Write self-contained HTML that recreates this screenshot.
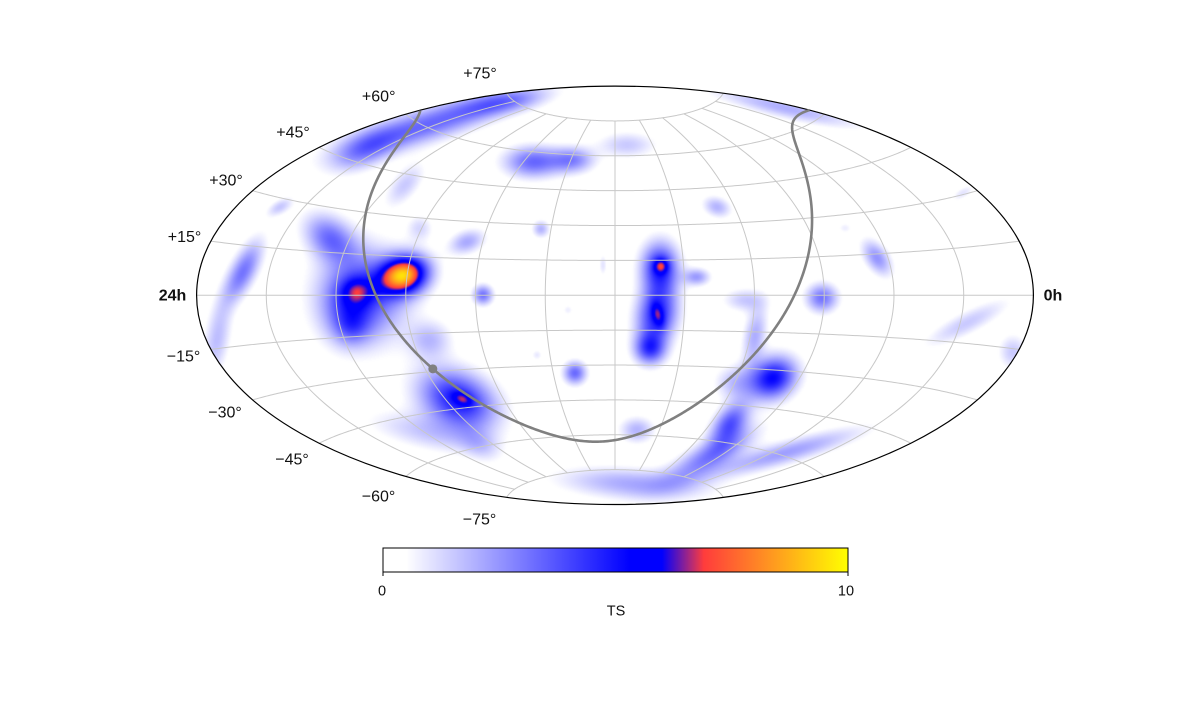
<!DOCTYPE html>
<html><head><meta charset="utf-8"><style>
html,body{margin:0;padding:0;background:#fff;}
#wrap{position:relative;width:1200px;height:720px;overflow:hidden;background:#fff;}
canvas,svg{position:absolute;left:0;top:0;}
text{font-family:"Liberation Sans","DejaVu Sans",sans-serif;fill:#111;}
</style></head><body><div id="wrap">
<canvas id="c" width="1200" height="720"></canvas>
<svg id="s" width="1200" height="720" viewBox="0 0 1200 720">
<defs>
<linearGradient id="cb" x1="0" x2="1" y1="0" y2="0">
<stop offset="0" stop-color="#ffffff"/>
<stop offset="0.05" stop-color="#ffffff"/>
<stop offset="0.53" stop-color="#0000ff"/>
<stop offset="0.6" stop-color="#0000ff"/>
<stop offset="0.69" stop-color="#ff3c3c"/>
<stop offset="1" stop-color="#ffff00"/>
</linearGradient>
</defs>
<g id="grid" fill="none" stroke="#c8c8c8" stroke-width="1"></g>
<ellipse cx="615" cy="295.3" rx="418.4" ry="209.2" fill="none" stroke="#000" stroke-width="1.2"/>
<g id="gal" fill="none" stroke="#808080" stroke-width="2.6" stroke-linejoin="round"></g>
<circle id="gc" cx="433.9" cy="368.9" r="4.5" fill="#808080"/>
<g font-size="16" text-anchor="middle">
<text x="480" y="78.5">+75°</text>
<text x="378.7" y="101.5">+60°</text>
<text x="293" y="137.5">+45°</text>
<text x="226" y="185.5">+30°</text>
<text x="184.5" y="242">+15°</text>
<text x="172.5" y="300.5" font-weight="bold">24h</text>
<text x="1053" y="300.5" font-weight="bold">0h</text>
<text x="183.5" y="361.5">−15°</text>
<text x="225" y="417.5">−30°</text>
<text x="292" y="464.5">−45°</text>
<text x="378.5" y="501.5">−60°</text>
<text x="479.5" y="524.5">−75°</text>
</g>
<rect x="383" y="548" width="465" height="24" fill="url(#cb)" stroke="#000" stroke-width="1"/>
<line x1="383" y1="572" x2="383" y2="576" stroke="#000" stroke-width="1"/>
<line x1="848" y1="572" x2="848" y2="576" stroke="#000" stroke-width="1"/>
<g font-size="14.5" text-anchor="middle">
<text x="382" y="595.5">0</text>
<text x="846" y="595.5">10</text>
<text x="616" y="615.5">TS</text>
</g>
</svg>
<script>
(function(){
const D=Math.PI/180, CX=615, CY=295.3, R=133.2, EA=418.4, EB=209.2;
function proj(lon,lat){
  const l=lon*D, p=lat*D;
  const ca=Math.cos(p)*Math.cos(l/2);
  const al=Math.acos(Math.max(-1,Math.min(1,ca)));
  const sc=al<1e-9?1:Math.sin(al)/al;
  const x=2*Math.cos(p)*Math.sin(l/2)/sc, y=Math.sin(p)/sc;
  return [CX+R*x, CY-R*y];
}
let gd="";
for(let lat=-75;lat<=75;lat+=15){
  let s="";
  for(let lon=-180;lon<=180;lon+=1){const q=proj(lon,lat);s+=(lon===-180?"M":"L")+q[0].toFixed(2)+" "+q[1].toFixed(2);}
  gd+=s;
}
for(let lon=-150;lon<=150;lon+=30){
  let s="";
  for(let lat=-75;lat<=75;lat+=1){const q=proj(lon,lat);s+=(lat===-75?"M":"L")+q[0].toFixed(2)+" "+q[1].toFixed(2);}
  gd+=s;
}
const ns="http://www.w3.org/2000/svg";
const gp=document.createElementNS(ns,"path");gp.setAttribute("d",gd);
document.getElementById("grid").appendChild(gp);
const aG=192.85948*D, dG=27.12825*D, lN=122.93192*D;
let segs=[], cur=[], prev=null;
for(let l=0;l<=360.001;l+=0.5){
  const t=lN-l*D;
  const dec=Math.asin(Math.cos(dG)*Math.cos(t));
  let ra=(aG+Math.atan2(Math.sin(t),-Math.sin(dG)*Math.cos(t)))/D;
  ra=((ra%360)+360)%360;
  let lon=180-ra;
  if(prev!==null && Math.abs(lon-prev)>180){segs.push(cur);cur=[];}
  cur.push(proj(lon,dec/D));prev=lon;
}
segs.push(cur);
let gl="";
for(const sg of segs){sg.forEach((q,i)=>{gl+=(i?"L":"M")+q[0].toFixed(2)+" "+q[1].toFixed(2);});}
const pp=document.createElementNS(ns,"path");pp.setAttribute("d",gl);
document.getElementById("gal").appendChild(pp);
const g0=proj(180-266.405,-28.936);
const gc=document.getElementById("gc");gc.setAttribute("cx",g0[0]);gc.setAttribute("cy",g0[1]);
const blobs=[
[404,275,17,13,-15,8.3],[357,291,11,10,0,2.2],[362,296,30,32,0,3.9],[347,310,16,20,0,1.4],[330,238,20,14,40,3.0],[352,328,12,12,0,1.4],
[243,272,24,9,117,3.1],[217,340,28,9,100,1.7],
[430,124,60,12,-17,3.3],[365,150,25,12,-25,2.2],[505,102,30,8,-10,2.2],
[533,162,20,11,0,3.3],[573,160,15,9,0,2.6],[627,145,20,9,0,1.5],
[785,108,50,7,13,2.0],
[660,268,13,18,0,4.6],[661,266,5,5,0,2.3],[657,315,14,20,10,4.6],[658,315,4,9,-15,1.8],[650,349,11,11,0,3.8],
[458,400,28,19,25,4.9],[463,399,7,4,25,1.9],[425,432,40,12,12,1.4],[480,445,15,10,30,1.1],
[773,378,17,14,-30,5.2],[735,383,14,12,0,1.6],[755,335,20,8,100,2.0],[730,423,17,10,-50,3.6],
[712,455,33,10,-28,3.0],[632,484,50,11,4,2.1],[785,453,55,8,-16,2.3],
[967,323,32,8,-27,1.5],[1013,352,10,12,0,1.5],
[280,207,10,5,-30,1.5],[405,185,18,9,-50,1.5],[420,228,9,9,0,1.2],[467,242,13,8,-20,2.1],
[483,295,7,7,0,3.1],[541,229,6,6,0,1.9],[717,207,10,7,20,1.9],[963,193,9,4,-30,1.0],
[877,258,14,8,55,2.5],[822,298,11,10,0,3.1],[745,300,15,8,0,1.5],[697,277,9,6,0,2.3],
[603,265,3,8,0,1.0],[430,340,15,13,0,1.7],[575,373,8,8,0,3.3],[637,430,12,9,0,1.9],
[537,355,4,4,0,0.9],[568,310,4,4,0,0.8],[845,228,5,4,0,0.8]
];
const W=1200,H=720;
const ts=new Float32Array(W*H);
for(const b of blobs){
  const [bx,by,su,sv,th,A]=b;
  const c=Math.cos(th*D), s=Math.sin(th*D);
  const r=Math.ceil(3.3*Math.max(su,sv));
  const y0=Math.max(0,Math.floor(by-r)), y1=Math.min(H,Math.ceil(by+r));
  const x0=Math.max(0,Math.floor(bx-r)), x1=Math.min(W,Math.ceil(bx+r));
  for(let y=y0;y<y1;y++){for(let x=x0;x<x1;x++){
    const dx=x+0.5-bx, dy=y+0.5-by;
    const u=dx*c+dy*s, v=-dx*s+dy*c;
    const d2=(u/su)*(u/su)+(v/sv)*(v/sv);
    if(d2<22) ts[y*W+x]+=A*Math.exp(-0.5*d2);
  }}
}
const st=[[0,255,255,255],[0.05,255,255,255],[0.53,0,0,255],[0.6,0,0,255],[0.69,255,60,60],[1,255,255,0]];
function cmap(f){
  if(f<=0) return [255,255,255];
  if(f>=1) return [255,255,0];
  for(let i=1;i<st.length;i++){
    if(f<=st[i][0]){const a=st[i-1],b=st[i];const t=(f-a[0])/(b[0]-a[0]);
      return [a[1]+(b[1]-a[1])*t,a[2]+(b[2]-a[2])*t,a[3]+(b[3]-a[3])*t];}
  }
  return [255,255,0];
}
const cv=document.getElementById("c"), ctx=cv.getContext("2d");
const img=ctx.createImageData(W,H), d=img.data;
for(let y=Math.floor(CY-EB)-1;y<=Math.ceil(CY+EB)+1;y++){
  for(let x=Math.floor(CX-EA)-1;x<=Math.ceil(CX+EA)+1;x++){
    const ex=(x+0.5-CX)/EA, ey=(y+0.5-CY)/EB;
    if(ex*ex+ey*ey>1) continue;
    const v=ts[y*W+x]; if(v<0.3) continue;
    const col=cmap(v/10); const k=(y*W+x)*4;
    d[k]=col[0];d[k+1]=col[1];d[k+2]=col[2];d[k+3]=255;
  }
}
ctx.putImageData(img,0,0);
})();
</script>
</div></body></html>
